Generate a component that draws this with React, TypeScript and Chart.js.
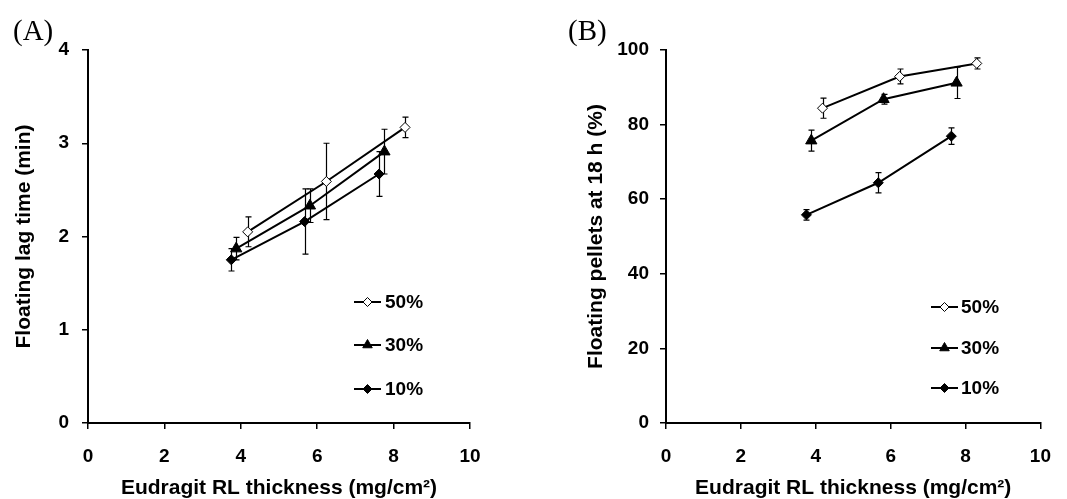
import React, { useEffect, useRef } from "react";
import { Chart, registerables } from "chart.js";

Chart.register(...registerables);

// ---- Data ----
const seriesLabels = ["50%", "30%", "10%"];
const pointStyles = ["rectRot", "triangle", "rectRot"];
const pointFills = ["#ffffff", "#000000", "#000000"];

const thickness50 = [4.18, 6.24, 8.3];
const thickness30 = [3.88, 5.81, 7.76];
const thickness10 = [3.75, 5.67, 7.62];

const lagTime50 = [2.05, 2.59, 3.17];
const lagTime50Err = [0.16, 0.41, 0.11];
const lagTime30 = [1.87, 2.33, 2.91];
const lagTime30Err = [0.12, 0.18, 0.24];
const lagTime10 = [1.75, 2.16, 2.67];
const lagTime10Err = [0.12, 0.35, 0.24];

const floating50 = [84.4, 92.9, 96.4];
const floating50Err = [2.7, 2.0, 1.5];
const floating30 = [75.7, 86.8, 91.2];
const floating30Err = [2.8, 1.3, 4.2];
const floating10 = [55.8, 64.4, 76.9];
const floating10Err = [1.4, 2.7, 2.2];

const xTickValues = [0, 2, 4, 6, 8, 10];
const xTitle = "Eudragit RL thickness (mg/cm²)";
const yTitleA = "Floating lag time (min)";
const yTitleB = "Floating pellets at 18 h (%)";

const SANS = "'Liberation Sans', Arial, Helvetica, sans-serif";
const SERIF = "'Liberation Serif', 'Times New Roman', serif";

type PanelSpec = {
  xs: number[][];
  ys: number[][];
  errs: number[][];
  yMax: number;
  yStep: number;
  yTitle: string;
  width: number;
  height: number;
  areaLeft: number;
  areaTop: number;
  areaRight: number;
  areaBottom: number;
  yTickPad: number;
  yTitlePad: number;
  legendRows: number[];
  legendLine: [number, number];
  legendText: number;
};

function drawMarker(ctx: CanvasRenderingContext2D, style: string, x: number, y: number, r: number, fill: string) {
  ctx.beginPath();
  if (style === "triangle") {
    for (let k = 0; k < 3; k++) {
      const a = (k * 2 * Math.PI) / 3;
      const px = x + Math.sin(a) * r;
      const py = y - Math.cos(a) * r;
      if (k === 0) ctx.moveTo(px, py);
      else ctx.lineTo(px, py);
    }
  } else {
    ctx.moveTo(x - r, y);
    ctx.lineTo(x, y - r);
    ctx.lineTo(x + r, y);
    ctx.lineTo(x, y + r);
  }
  ctx.closePath();
  ctx.fillStyle = fill;
  ctx.fill();
  ctx.lineWidth = 1;
  ctx.strokeStyle = "#000";
  ctx.stroke();
}

function buildConfig(spec: PanelSpec): any {
  const datasets = seriesLabels.map((label, i) => ({
    label,
    data: spec.xs[i].map((x, j) => ({ x, y: spec.ys[i][j] })),
    borderColor: "#000",
    borderWidth: 2,
    pointStyle: pointStyles[i],
    pointRadius: pointStyles[i] === "triangle" ? 6.5 : 5,
    pointBackgroundColor: pointFills[i],
    pointBorderColor: "#000",
    pointBorderWidth: 1,
    showLine: true,
    tension: 0,
    fill: false,
  }));

  const errorBars = {
    id: "errorBars",
    beforeDatasetsDraw(chart: any) {
      const { ctx } = chart;
      const xs = chart.scales.x;
      const ys = chart.scales.y;
      ctx.save();
      ctx.strokeStyle = "#000";
      ctx.lineWidth = 1.2;
      spec.xs.forEach((row, i) => {
        row.forEach((xv, j) => {
          const v = spec.ys[i][j];
          const e = spec.errs[i][j];
          const px = Math.round(xs.getPixelForValue(xv)) + 0.5;
          const top = ys.getPixelForValue(v + e);
          const bot = ys.getPixelForValue(v - e);
          ctx.beginPath();
          ctx.moveTo(px, top);
          ctx.lineTo(px, bot);
          ctx.moveTo(px - 3, top);
          ctx.lineTo(px + 3, top);
          ctx.moveTo(px - 3, bot);
          ctx.lineTo(px + 3, bot);
          ctx.stroke();
        });
      });
      ctx.restore();
    },
  };

  const legend = {
    id: "customLegend",
    afterDraw(chart: any) {
      const { ctx } = chart;
      ctx.save();
      seriesLabels.forEach((label, i) => {
        const y = spec.legendRows[i];
        const [x0, x1] = spec.legendLine;
        ctx.strokeStyle = "#000";
        ctx.lineWidth = 2;
        ctx.beginPath();
        ctx.moveTo(x0, y);
        ctx.lineTo(x1, y);
        ctx.stroke();
        drawMarker(ctx, pointStyles[i], (x0 + x1) / 2, y, pointStyles[i] === "triangle" ? 5.5 : 4.5, pointFills[i]);
        ctx.fillStyle = "#000";
        ctx.font = `bold 19px ${SANS}`;
        ctx.textAlign = "left";
        ctx.textBaseline = "middle";
        ctx.fillText(label, spec.legendText, y + 1);
      });
      ctx.restore();
    },
  };

  return {
    type: "scatter",
    data: { datasets },
    plugins: [errorBars, legend],
    options: {
      responsive: false,
      animation: false,
      events: [],
      layout: {
        padding: {
          left: 0,
          top: spec.areaTop,
          right: spec.width - spec.areaRight,
          bottom: 0,
        },
      },
      plugins: {
        legend: { display: false },
        tooltip: { enabled: false },
        title: { display: false },
      },
      scales: {
        x: {
          type: "linear",
          min: 0,
          max: 10,
          afterBuildTicks(scale: any) {
            scale.ticks = xTickValues.map((v) => ({ value: v }));
          },
          afterFit(scale: any) {
            scale.height = spec.height - spec.areaBottom;
          },
          grid: {
            drawOnChartArea: false,
            drawTicks: true,
            tickLength: 6,
            color: "#000",
            lineWidth: 1.5,
          },
          border: { display: true, color: "#000", width: 2 },
          ticks: {
            color: "#000",
            padding: 16,
            maxRotation: 0,
            autoSkip: false,
            font: { family: SANS, size: 19, weight: "bold" },
          },
          title: {
            display: true,
            text: xTitle,
            color: "#000",
            font: { family: SANS, size: 21, weight: "bold", lineHeight: 1 },
            padding: { top: 0, bottom: 0 },
          },
        },
        y: {
          type: "linear",
          min: 0,
          max: spec.yMax,
          ticks: {
            stepSize: spec.yStep,
            color: "#000",
            padding: spec.yTickPad,
            font: { family: SANS, size: 19, weight: "bold" },
          },
          afterFit(scale: any) {
            scale.width = spec.areaLeft;
          },
          grid: {
            drawOnChartArea: false,
            drawTicks: true,
            tickLength: 6,
            color: "#000",
            lineWidth: 1.5,
          },
          border: { display: true, color: "#000", width: 2 },
          title: {
            display: true,
            text: spec.yTitle,
            color: "#000",
            font: { family: SANS, size: 21, weight: "bold", lineHeight: 1 },
            padding: { top: spec.yTitlePad, bottom: 0 },
          },
        },
      },
    },
  };
}

function Panel({ spec, left, label, labelLeft }: { spec: PanelSpec; left: number; label: string; labelLeft: number }) {
  const ref = useRef<HTMLCanvasElement | null>(null);
  useEffect(() => {
    if (!ref.current) return;
    const chart = new Chart(ref.current, buildConfig(spec));
    return () => chart.destroy();
  }, [spec]);
  return (
    <div style={{ position: "absolute", left, top: 0, width: spec.width, height: spec.height }}>
      <canvas ref={ref} width={spec.width} height={spec.height} style={{ display: "block", width: spec.width, height: spec.height }} />
      <div
        style={{
          position: "absolute",
          left: labelLeft,
          top: 14,
          fontFamily: SERIF,
          fontSize: 29,
          lineHeight: "32px",
          color: "#000",
          whiteSpace: "nowrap",
        }}
      >
        {label}
      </div>
    </div>
  );
}

const specA: PanelSpec = {
  xs: [thickness50, thickness30, thickness10],
  ys: [lagTime50, lagTime30, lagTime10],
  errs: [lagTime50Err, lagTime30Err, lagTime10Err],
  yMax: 4,
  yStep: 1,
  yTitle: yTitleA,
  width: 533,
  height: 499,
  areaLeft: 88,
  areaTop: 50,
  areaRight: 470,
  areaBottom: 423,
  yTickPad: 13,
  yTitlePad: 14,
  legendRows: [302, 345, 389],
  legendLine: [354, 381],
  legendText: 385,
};

const specB: PanelSpec = {
  xs: [thickness50, thickness30, thickness10],
  ys: [floating50, floating30, floating10],
  errs: [floating50Err, floating30Err, floating10Err],
  yMax: 100,
  yStep: 20,
  yTitle: yTitleB,
  width: 534,
  height: 499,
  areaLeft: 133,
  areaTop: 50,
  areaRight: 514,
  areaBottom: 423,
  yTickPad: 11,
  yTitlePad: 53,
  legendRows: [307, 348, 388],
  legendLine: [398, 425],
  legendText: 428,
};

export default function App() {
  return (
    <div style={{ position: "absolute", left: 0, top: 0, width: 1067, height: 499, background: "#fff", overflow: "hidden" }}>
      <Panel spec={specA} left={0} label="(A)" labelLeft={13} />
      <Panel spec={specB} left={533} label="(B)" labelLeft={35} />
    </div>
  );
}
